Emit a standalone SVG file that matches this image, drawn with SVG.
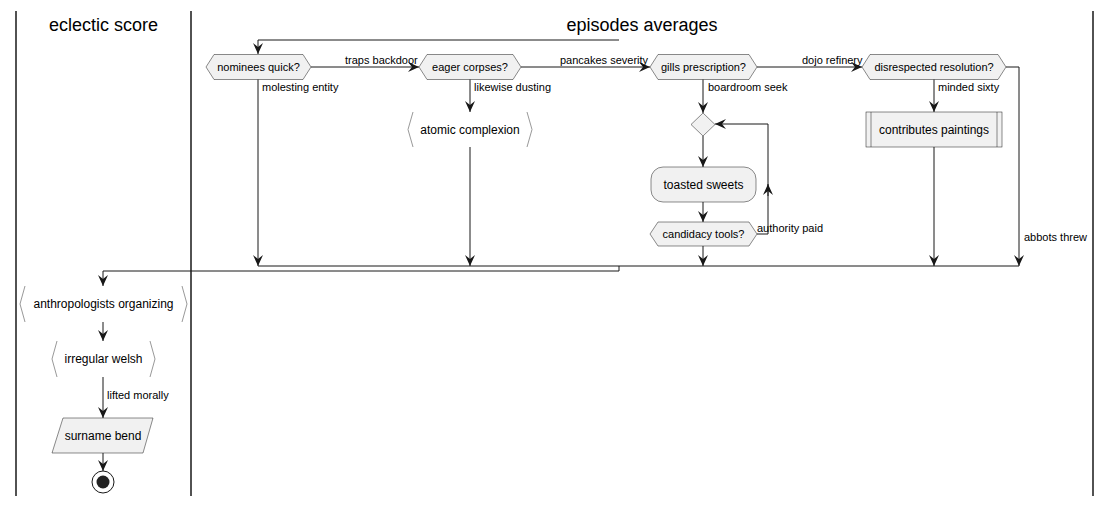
<svg xmlns="http://www.w3.org/2000/svg" width="1112" height="506" viewBox="0 0 1112 506">
<defs>
<style>
.lane{stroke:#181818;stroke-width:1.5;fill:none}
.title{font-family:"Liberation Sans",Arial,sans-serif;font-size:18px;fill:#000;text-anchor:middle}
.node{fill:#F1F1F1;stroke:#181818;stroke-width:0.5}
.brk{fill:none;stroke:#999;stroke-width:1}
.t{font-family:"Liberation Sans",Arial,sans-serif;font-size:12px;fill:#000;text-anchor:middle}
.h{font-family:"Liberation Sans",Arial,sans-serif;font-size:11px;fill:#000;text-anchor:middle}
.lbl{font-family:"Liberation Sans",Arial,sans-serif;font-size:11px;fill:#000}
.c{fill:none;stroke:#181818;stroke-width:1}
</style>
<marker id="ah" markerWidth="11" markerHeight="10" refX="11" refY="5" orient="auto" markerUnits="userSpaceOnUse">
<path d="M0,0 L11,5 L0,10 L4,5 Z" fill="#181818"/>
</marker>
</defs>
<rect width="1112" height="506" fill="#fff"/>
<g id="lanes">
<line class="lane" x1="16" y1="11" x2="16" y2="496"/>
<line class="lane" x1="191" y1="11" x2="191" y2="496"/>
<line class="lane" x1="1093" y1="11" x2="1093" y2="496"/>
<text class="title" x="103.5" y="31">eclectic score</text>
<text class="title" x="642" y="31">episodes averages</text>
</g>
<g id="connectors">
<polyline class="c" points="619,40 258,40 258,54" marker-end="url(#ah)"/>
<line class="c" x1="311" y1="67" x2="419" y2="67" marker-end="url(#ah)"/>
<line class="c" x1="521" y1="67" x2="650" y2="67" marker-end="url(#ah)"/>
<line class="c" x1="757" y1="67" x2="862" y2="67" marker-end="url(#ah)"/>
<line class="c" x1="258" y1="79" x2="258" y2="266" marker-end="url(#ah)"/>
<line class="c" x1="470" y1="79" x2="470" y2="112" marker-end="url(#ah)"/>
<line class="c" x1="470" y1="147" x2="470" y2="266" marker-end="url(#ah)"/>
<line class="c" x1="703" y1="79" x2="703" y2="113" marker-end="url(#ah)"/>
<line class="c" x1="703" y1="136" x2="703" y2="167" marker-end="url(#ah)"/>
<line class="c" x1="703" y1="202" x2="703" y2="222" marker-end="url(#ah)"/>
<line class="c" x1="703" y1="246" x2="703" y2="266" marker-end="url(#ah)"/>
<polyline class="c" points="757,234 768,234 768,124 715,124" marker-end="url(#ah)"/>
<line class="c" x1="768" y1="196" x2="768" y2="184" marker-end="url(#ah)"/>
<line class="c" x1="934" y1="79" x2="934" y2="112" marker-end="url(#ah)"/>
<line class="c" x1="934" y1="147" x2="934" y2="266" marker-end="url(#ah)"/>
<polyline class="c" points="1006,67 1019,67 1019,266" marker-end="url(#ah)"/>
<line class="c" x1="258" y1="266" x2="1019" y2="266"/>
<polyline class="c" points="619,266 619,271 103,271 103,286" marker-end="url(#ah)"/>
<line class="c" x1="103" y1="322" x2="103" y2="341" marker-end="url(#ah)"/>
<line class="c" x1="103" y1="377" x2="103" y2="418" marker-end="url(#ah)"/>
<line class="c" x1="103" y1="453" x2="103" y2="471" marker-end="url(#ah)"/>
<text class="lbl" x="345" y="64">traps backdoor</text>
<text class="lbl" x="560" y="64">pancakes severity</text>
<text class="lbl" x="802" y="64">dojo refinery</text>
<text class="lbl" x="262" y="91">molesting entity</text>
<text class="lbl" x="474" y="91">likewise dusting</text>
<text class="lbl" x="708" y="91">boardroom seek</text>
<text class="lbl" x="938" y="91">minded sixty</text>
<text class="lbl" x="757" y="232">authority paid</text>
<text class="lbl" x="1024" y="241">abbots threw</text>
<text class="lbl" x="107" y="399">lifted morally</text>
</g>
<g id="n-nominees">
<polygon class="node" points="206,67 214,54.5 303,54.5 311,67 303,79.5 214,79.5"/>
<text class="h" x="258.5" y="71">nominees quick?</text>
</g>
<g id="n-eager">
<polygon class="node" points="419,67 427,54.5 513,54.5 521,67 513,79.5 427,79.5"/>
<text class="h" x="470" y="71">eager corpses?</text>
</g>
<g id="n-gills">
<polygon class="node" points="650,67 658,54.5 749,54.5 757,67 749,79.5 658,79.5"/>
<text class="h" x="703.5" y="71">gills prescription?</text>
</g>
<g id="n-disrespected">
<polygon class="node" points="862,67 870,54.5 998,54.5 1006,67 998,79.5 870,79.5"/>
<text class="h" x="934" y="71">disrespected resolution?</text>
</g>
<g id="n-atomic">
<polyline class="brk" points="413,112 408,129.5 413,147"/>
<polyline class="brk" points="527,112 532,129.5 527,147"/>
<text class="t" x="470" y="134">atomic complexion</text>
</g>
<g id="n-merge">
<polygon class="node" points="703,113 715,124.5 703,136 691,124.5"/>
</g>
<g id="n-toasted">
<rect class="node" x="651" y="167" width="105" height="35" rx="12" ry="12"/>
<text class="t" x="703.5" y="189">toasted sweets</text>
</g>
<g id="n-candidacy">
<polygon class="node" points="650,234 658,222 749,222 757,234 749,246 658,246"/>
<text class="h" x="703.5" y="238">candidacy tools?</text>
</g>
<g id="n-contributes">
<rect class="node" x="866" y="112" width="136" height="35"/>
<line class="node" x1="871" y1="112" x2="871" y2="147"/>
<line class="node" x1="997" y1="112" x2="997" y2="147"/>
<text class="t" x="934" y="134">contributes paintings</text>
</g>
<g id="n-anthropologists">
<polyline class="brk" points="25,286 20,304 25,322"/>
<polyline class="brk" points="182,286 187,304 182,322"/>
<text class="t" x="103.5" y="308">anthropologists organizing</text>
</g>
<g id="n-irregular">
<polyline class="brk" points="57,341 52,359 57,377"/>
<polyline class="brk" points="150,341 155,359 150,377"/>
<text class="t" x="103.5" y="363">irregular welsh</text>
</g>
<g id="n-surname">
<polygon class="node" points="63,418 153,418 143,453 52,453"/>
<text class="t" x="103" y="440">surname bend</text>
</g>
<g id="n-end">
<circle cx="103" cy="482" r="11" fill="#fff" stroke="#181818" stroke-width="1"/>
<circle cx="103" cy="482" r="6.5" fill="#222"/>
</g>
</svg>
